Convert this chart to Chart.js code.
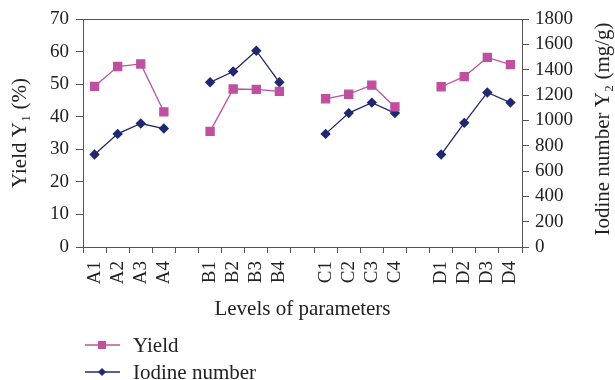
<!DOCTYPE html>
<html>
<head>
<meta charset="utf-8">
<script src="https://cdn.jsdelivr.net/npm/chart.js@4.4.1/dist/chart.umd.min.js"></script>
<style>
body { margin: 0; background: #fff; }
#wrap { width: 615px; height: 380px; }
</style>
</head>
<body>
<div id="wrap"><canvas id="grafico"></canvas></div>
<script>
// categorias com espaços vazios entre os grupos
const categorias = ['A1', 'A2', 'A3', 'A4', '', 'B1', 'B2', 'B3', 'B4', '', 'C1', 'C2', 'C3', 'C4', '', 'D1', 'D2', 'D3', 'D4'];
const rendimento = [49.3, 55.4, 56.2, 41.5, null, 35.5, 48.5, 48.4, 47.8, null, 45.5, 46.9, 49.7, 43.0, null, 49.2, 52.3, 58.2, 56.0];
const indiceIodo = [730, 893, 975, 935, null, 1300, 1385, 1550, 1300, null, 893, 1057, 1140, 1057, null, 730, 980, 1220, 1140];
const ticksEsquerda = [0, 10, 20, 30, 40, 50, 60, 70];
const ticksDireita = [0, 200, 400, 600, 800, 1000, 1200, 1400, 1600, 1800];

const rosa = '#bf50a0';
const azul = '#1f2870';
const eixo = '#555555';
const texto = '#222222';
const familia = "'Liberation Serif', 'DejaVu Serif', serif";
const fonteTicks = { family: familia, size: 19 };
const fonteTitulo = { family: familia, size: 21 };

// linha superior do quadro + título do eixo direito (lido de baixo para cima)
const bordaTopo = {
    id: 'bordaTopo',
    afterDraw(chart) {
        const { ctx, chartArea } = chart;
        ctx.save();
        ctx.strokeStyle = eixo;
        ctx.lineWidth = 1;
        ctx.beginPath();
        ctx.moveTo(chartArea.left, chartArea.top + 0.5);
        ctx.lineTo(chartArea.right, chartArea.top + 0.5);
        ctx.stroke();
        ctx.translate(603, (chartArea.top + chartArea.bottom) / 2 - 4);
        ctx.rotate(-Math.PI / 2);
        ctx.font = fonteTitulo.size + 'px ' + familia;
        ctx.fillStyle = texto;
        ctx.textAlign = 'center';
        ctx.textBaseline = 'middle';
        ctx.fillText('Iodine number Y\u2082 (mg/g)', 0, 0);
        ctx.restore();
    }
};

// legenda vertical embaixo
const legendaVertical = {
    id: 'legendaVertical',
    afterDraw(chart) {
        const { ctx } = chart;
        ctx.save();
        ctx.font = fonteTitulo.size + 'px ' + familia;
        ctx.textBaseline = 'middle';
        chart.data.datasets.forEach((ds, i) => {
            const y = 345 + i * 27;
            ctx.strokeStyle = ds.borderColor;
            ctx.lineWidth = 1.3;
            ctx.beginPath();
            ctx.moveTo(85, y);
            ctx.lineTo(120, y);
            ctx.stroke();
            ctx.fillStyle = ds.backgroundColor;
            ctx.beginPath();
            if (ds.pointStyle === 'rect') {
                ctx.rect(98, y - 4, 8, 8);
            } else {
                ctx.moveTo(102, y - 4);
                ctx.lineTo(106, y);
                ctx.lineTo(102, y + 4);
                ctx.lineTo(98, y);
                ctx.closePath();
            }
            ctx.fill();
            ctx.fillStyle = texto;
            ctx.fillText(ds.label, 133, y + 1);
        });
        ctx.restore();
    }
};

new Chart(document.getElementById('grafico').getContext('2d'), {
    type: 'line',
    data: {
        labels: categorias,
        datasets: [{
            label: 'Yield',
            data: rendimento,
            yAxisID: 'y',
            borderColor: rosa,
            backgroundColor: rosa,
            borderWidth: 1.3,
            pointStyle: 'rect',
            pointRadius: 5.7,
            pointHoverRadius: 5.7,
            spanGaps: false
        }, {
            label: 'Iodine number',
            data: indiceIodo,
            yAxisID: 'y2',
            borderColor: azul,
            backgroundColor: azul,
            borderWidth: 1.3,
            pointStyle: 'rectRot',
            pointRadius: 4.3,
            pointHoverRadius: 4.3,
            spanGaps: false
        }]
    },
    options: {
        responsive: true,
        maintainAspectRatio: false,
        animation: false,
        layout: { padding: { top: 19, right: 0, left: 0, bottom: 58 } },
        plugins: {
            legend: { display: false },
            tooltip: { enabled: false }
        },
        scales: {
            x: {
                offset: true,
                afterFit: (s) => { s.height = 75; },
                grid: { offset: true, drawOnChartArea: false, tickLength: 6, color: eixo },
                border: { color: eixo },
                ticks: { color: texto, font: fonteTicks, minRotation: 90, maxRotation: 90, autoSkip: false, padding: 8 },
                title: { display: true, text: 'Levels of parameters', color: texto, font: fonteTitulo, padding: 0 }
            },
            y: {
                position: 'left',
                min: 0,
                max: 70,
                afterFit: (s) => { s.width = 83; },
                afterBuildTicks: (s) => { s.ticks = ticksEsquerda.map(v => ({ value: v })); },
                grid: { drawOnChartArea: false, tickLength: 7, color: eixo },
                border: { color: eixo },
                ticks: { color: texto, font: fonteTicks, padding: 7, autoSkip: false, callback: v => String(v) },
                title: { display: true, text: 'Yield Y\u2081 (%)', color: texto, font: fonteTitulo, padding: { top: 8, bottom: 0 } }
            },
            y2: {
                position: 'right',
                min: 0,
                max: 1800,
                afterFit: (s) => { s.width = 93; },
                afterBuildTicks: (s) => { s.ticks = ticksDireita.map(v => ({ value: v })); },
                grid: { drawOnChartArea: false, tickLength: 7, color: eixo },
                border: { color: eixo },
                ticks: { color: texto, font: fonteTicks, padding: 6, autoSkip: false, callback: v => String(v) }
            }
        }
    },
    plugins: [bordaTopo, legendaVertical]
});
</script>
</body>
</html>
